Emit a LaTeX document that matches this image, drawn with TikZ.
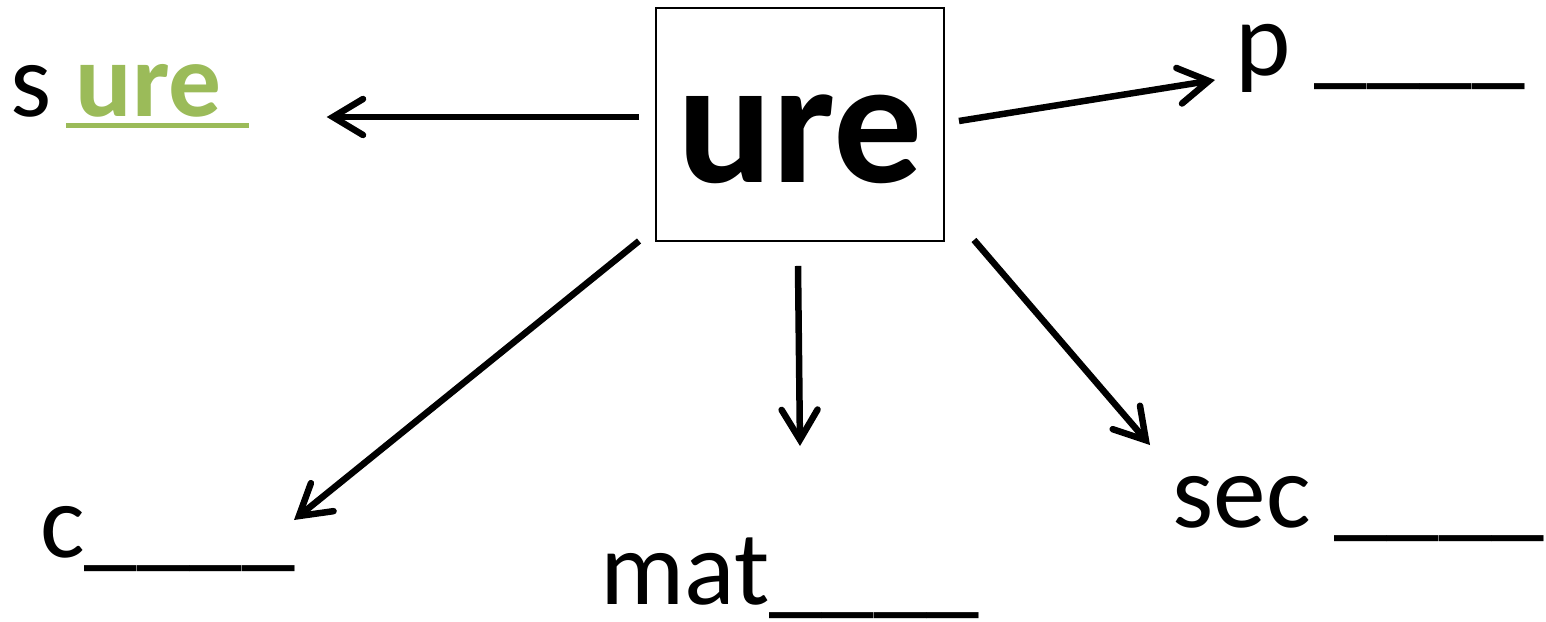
\documentclass[tikz,border=0pt]{standalone}
\usepackage{fontspec}
\setmainfont{Carlito}
\usetikzlibrary{arrows.meta,calc,positioning}
\definecolor{ureGreen}{RGB}{155,187,89}
\tikzset{>={Straight Barb[length=0.6cm,width=0.72cm,line cap=round,line join=miter]}}
\tikzset{word/.style={font=\fontsize{60}{72}\selectfont,inner sep=0pt,anchor=base west}}
\tikzset{link/.style={->,line width=0.13cm}}

\begin{document}
\begin{tikzpicture}[x=0.02cm,y=-0.02cm]
  \useasboundingbox (0,0) rectangle (1546,622);
  % the root in its box
  \node [draw,line width=0.04cm,inner sep=0pt,minimum width=5.76cm,minimum height=4.66cm,text height=2.34cm,text depth=0pt,font=\fontsize{101}{120}\selectfont\bfseries] (root) at (800,124.5) {ure};
  % words round it
  \node [word] (sure) at (10,116) {s \textcolor{ureGreen}{\textbf{ure}}};
  \node [word] (pword) at (1235,75) {p \_\_\_\_};
  \node [word] (cword) at (40,557) {c\_\_\_\_};
  \node [word] (matword) at (600,604) {mat\_\_\_\_};
  \node [word] (secword) at (1172,527) {sec \_\_\_\_};
  \draw [ureGreen,line width=0.1cm] ($(sure.base west)+(56,9)$) -- ($(sure.base east)+(27,9)$);
  % arrows out of the box
  \draw [link] ($(root.west)+(-16,-7.5)$) -- ($(sure.base east)+(105,1)$);
  \draw [link] ($(root.east)+(14,-3.5)$) -- ($(pword.base west)+(-20,5)$);
  \draw [link] ($(root.south)+(-2,24)$) -- ($(matword.base west)+(200,-158)$);
  \draw [link] ($(root.south west)+(-16,-1)$) -- ($(cword.base west)+(254,-37)$);
  \draw [link] ($(root.south east)+(29,-2)$) -- ($(secword.base west)+(-22,-82)$);
\end{tikzpicture}
\end{document}
